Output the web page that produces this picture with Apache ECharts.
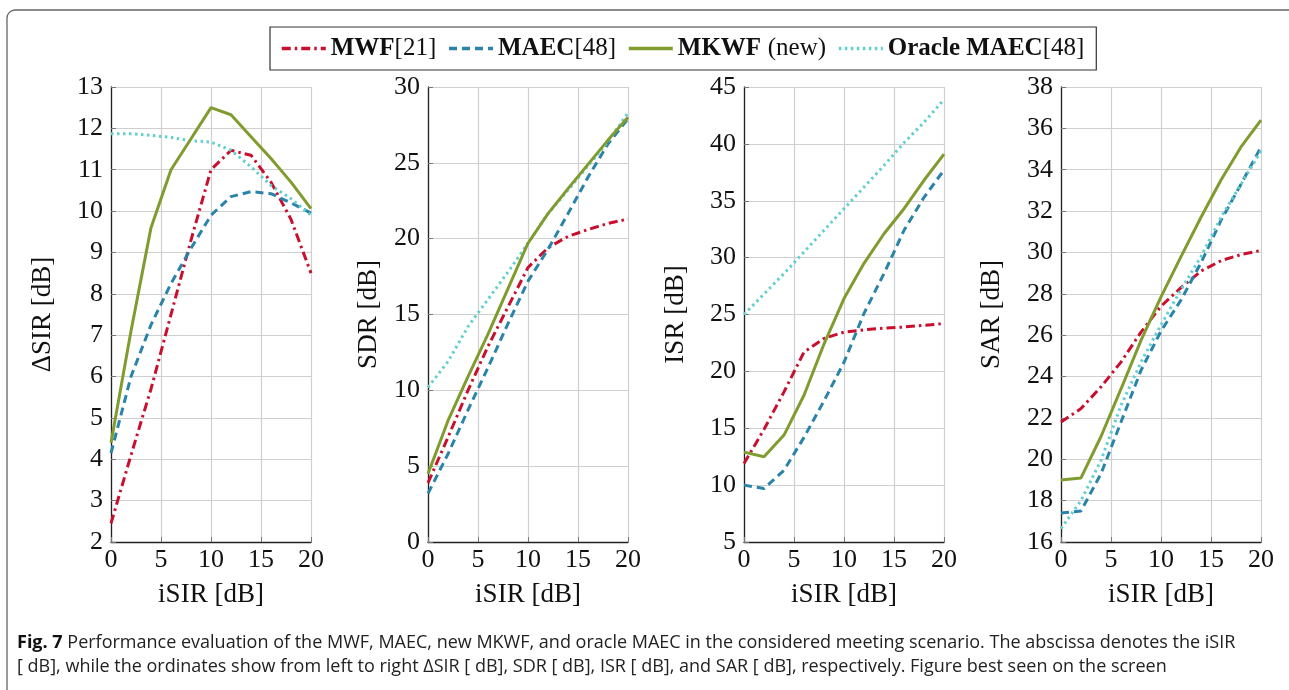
<!DOCTYPE html>
<html>
<head>
<meta charset="utf-8">
<script src="https://cdn.jsdelivr.net/npm/echarts@6/dist/echarts.min.js"></script>
<style>
  html, body { margin: 0; padding: 0; background: #fff; }
  #chart { width: 1289px; height: 690px; }
</style>
</head>
<body>
<div id="chart"></div>
<script>
// iSIR values (x axis), same for every panel
const isir = [0, 2, 4, 6, 8, 10, 12, 14, 16, 18, 20];

// delta SIR [dB]
const dsirMWF    = [2.45, 4.1, 5.7, 7.5, 9.3, 11.0, 11.47, 11.35, 10.7, 9.8, 8.5];
const dsirMAEC   = [4.15, 6.0, 7.25, 8.25, 9.1, 9.9, 10.35, 10.47, 10.42, 10.2, 9.95];
const dsirMKWF   = [4.4, 7.1, 9.6, 11.0, 11.75, 12.5, 12.33, 11.8, 11.27, 10.7, 10.06];
const dsirOracle = [11.87, 11.87, 11.83, 11.78, 11.7, 11.67, 11.47, 11.07, 10.62, 10.3, 9.9];

// SDR [dB]
const sdrMWF    = [3.9, 6.9, 10.0, 12.9, 15.5, 18.1, 19.4, 20.15, 20.6, 21.0, 21.3];
const sdrMAEC   = [3.2, 5.8, 8.7, 11.5, 14.4, 17.2, 19.3, 21.65, 24.05, 26.25, 27.9];
const sdrMKWF   = [4.5, 8.0, 10.9, 13.7, 16.7, 19.7, 21.65, 23.3, 24.9, 26.5, 28.0];
const sdrOracle = [10.2, 11.9, 14.2, 16.0, 17.8, 19.7, 21.65, 23.2, 24.8, 26.4, 28.3];

// ISR [dB]
const isrMWF    = [11.9, 14.9, 18.2, 21.7, 22.9, 23.45, 23.65, 23.8, 23.9, 24.05, 24.2];
const isrMAEC   = [10.0, 9.7, 11.3, 14.2, 17.4, 20.8, 25.1, 28.6, 32.4, 35.3, 37.7];
const isrMKWF   = [12.9, 12.5, 14.4, 17.9, 22.4, 26.4, 29.5, 32.1, 34.3, 36.8, 39.1];
const isrOracle = [25.0, 26.8, 28.6, 30.5, 32.4, 34.3, 36.2, 38.1, 40.1, 41.9, 43.9];

// SAR [dB]
const sarMWF    = [21.8, 22.45, 23.5, 24.7, 26.15, 27.4, 28.3, 29.1, 29.6, 29.9, 30.1];
const sarMAEC   = [17.4, 17.5, 19.3, 21.8, 24.3, 26.2, 27.7, 29.5, 31.55, 33.3, 35.1];
const sarMKWF   = [19.0, 19.1, 21.1, 23.4, 25.75, 27.85, 29.8, 31.7, 33.5, 35.1, 36.4];
const sarOracle = [16.65, 18.0, 19.95, 22.6, 24.7, 26.5, 28.2, 29.8, 31.7, 33.3, 34.9];

const yNames = ['ΔSIR [dB]', 'SDR [dB]', 'ISR [dB]', 'SAR [dB]'];
const yMin = [2, 0, 5, 16];
const yMax = [13, 30, 45, 38];
const yStep = [1, 5, 5, 2];
const seriesNames = ['MWF[21]', 'MAEC[48]', 'MKWF (new)', 'Oracle MAEC[48]'];

const panels = [
    [dsirMWF, dsirMAEC, dsirMKWF, dsirOracle],
    [sdrMWF, sdrMAEC, sdrMKWF, sdrOracle],
    [isrMWF, isrMAEC, isrMKWF, isrOracle],
    [sarMWF, sarMAEC, sarMKWF, sarOracle]
];

const colors = ['#c8102e', '#2a83a8', '#809b2e', '#62cfcf'];
const dashes = [[9, 4, 2.5, 4], [8, 5], 'solid', [2.5, 3.5]];
const gridLeft = [111, 428, 744, 1061];
const nameGaps = [55, 46, 55, 56];

const serif = '"Liberation Serif", "DejaVu Serif", serif';
const sans = '"Liberation Sans Narrow", "Open Sans", sans-serif';

const chart = echarts.init(document.getElementById('chart'));

const grids = [], xAxes = [], yAxes = [], series = [];
panels.forEach(function (p, i) {
    grids.push({ left: gridLeft[i], top: 87, width: 200, height: 455 });
    xAxes.push({
        type: 'value', gridIndex: i, min: 0, max: 20, interval: 5,
        name: 'iSIR [dB]', nameLocation: 'middle', nameGap: 39,
        nameTextStyle: { fontFamily: serif, fontSize: 27, color: '#111' },
        axisLine: { lineStyle: { color: '#222', width: 1.3 } },
        axisTick: { inside: true, length: 5, lineStyle: { color: '#777' } },
        axisLabel: { fontFamily: serif, fontSize: 26, color: '#111', margin: 5 },
        splitLine: { show: true, lineStyle: { color: '#cfcfcf', width: 1.2 } }
    });
    yAxes.push({
        type: 'value', gridIndex: i, min: yMin[i], max: yMax[i], interval: yStep[i],
        name: yNames[i], nameLocation: 'middle', nameGap: nameGaps[i],
        nameTextStyle: { fontFamily: serif, fontSize: 27, color: '#111' },
        axisLine: { show: true, lineStyle: { color: '#222', width: 1.3 } },
        axisTick: { show: true, inside: true, length: 5, lineStyle: { color: '#777' } },
        axisLabel: { fontFamily: serif, fontSize: 26, color: '#111', margin: 8 },
        splitLine: { show: true, lineStyle: { color: '#cfcfcf', width: 1.2 } }
    });
    p.forEach(function (vals, k) {
        series.push({
            type: 'line', name: seriesNames[k],
            xAxisIndex: i, yAxisIndex: i,
            symbol: 'none', silent: true,
            z: k === 2 ? 3 : 2,
            data: isir.map(function (x, j) { return [x, vals[j]]; }),
            lineStyle: { color: colors[k], width: 3, type: dashes[k] },
            itemStyle: { color: colors[k] }
        });
    });
});

const legendRich = {
    'MWF[21]': '{b|MWF}{n|[21]}',
    'MAEC[48]': '{b|MAEC}{n|[48]}',
    'MKWF (new)': '{b|MKWF}  {n|(new)}',
    'Oracle MAEC[48]': '{b|Oracle MAEC}{n|[48]}'
};

const option = {
    backgroundColor: '#fff',
    animation: false,
    grid: grids,
    xAxis: xAxes,
    yAxis: yAxes,
    series: series,
    legend: {
        left: 270, top: 27,
        data: seriesNames,
        borderColor: '#333', borderWidth: 1.2,
        padding: [9, 12, 9, 10],
        itemWidth: 44, itemHeight: 14, itemGap: 11,
        itemStyle: { opacity: 0 },
        lineStyle: { width: 3.5 },
        formatter: function (name) { return legendRich[name]; },
        textStyle: {
            rich: {
                b: { fontFamily: serif, fontSize: 25, fontWeight: 'bold', color: '#111' },
                n: { fontFamily: serif, fontSize: 25, color: '#111' }
            }
        }
    },
    graphic: [
        {
            type: 'rect', silent: true,
            shape: { x: 7, y: 10, width: 1320, height: 720, r: [8, 0, 0, 0] },
            style: { fill: 'none', stroke: '#666', lineWidth: 1.3 }
        },
        {
            type: 'text', left: 17, top: 634,
            style: {
                text: '{b|Fig. 7} Performance evaluation of the MWF, MAEC, new MKWF, and oracle MAEC in the considered meeting scenario. The abscissa denotes the iSIR',
                rich: {
                    b: { fontFamily: sans, fontSize: 18, fontWeight: 'bold', fill: '#111' }
                },
                fontFamily: sans, fontSize: 18, fill: '#222'
            }
        },
        {
            type: 'text', left: 17, top: 658,
            style: {
                text: '[ dB], while the ordinates show from left to right ΔSIR [ dB], SDR [ dB], ISR [ dB], and SAR [ dB], respectively. Figure best seen on the screen',
                fontFamily: sans, fontSize: 18, fill: '#222'
            }
        }
    ]
};

chart.setOption(option);
</script>
</body>
</html>
